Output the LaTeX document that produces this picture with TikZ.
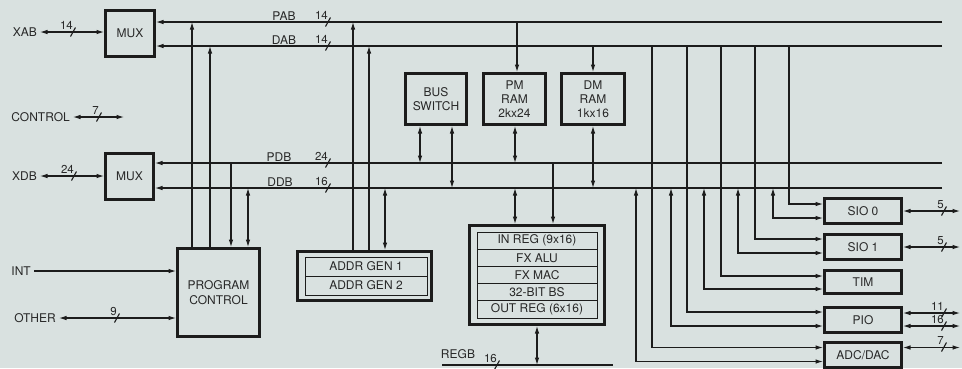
\documentclass[tikz,border=0pt]{standalone}
\usepackage{fontspec}
\setmainfont{TeX Gyre Heros}
\usetikzlibrary{arrows.meta}
\definecolor{bgc}{RGB}{217,225,224}
\definecolor{ink}{RGB}{28,28,28}
\definecolor{txt}{RGB}{40,40,40}
\newcommand\busmark[3]{%
  \draw[ln] (#1-2.5,#2+4.5) -- (#1+2.5,#2-4.5);
  \node[numlbl] at (#1+0.5,#2-1.5) {#3};}
\begin{document}
\begin{tikzpicture}[x=1pt,y=-1pt,
  every node/.style={font=\fontsize{12}{14}\selectfont, text=txt},
  blk/.style={draw=ink, line width=2.6pt, inner sep=0pt, align=center},
  cell/.style={draw=ink, line width=1pt, inner sep=0pt},
  ln/.style={draw=ink, line width=1.1pt},
  ar/.style={ln, -{Latex[length=7.5pt,width=4.6pt]}},
  dar/.style={ln, {Latex[length=7.5pt,width=4.6pt]}-{Latex[length=7.5pt,width=4.6pt]}},
  lbl/.style={inner sep=3pt},
  numlbl/.style={font=\fontsize{11.5}{12}\selectfont, anchor=south east, inner sep=0.5pt}]
\fill[bgc] (0,0) rectangle (962,368);
\useasboundingbox (0,0) rectangle (962,368);

% blocks
\node[blk, minimum width=49.4, minimum height=46.4] (mux1) at (130,33.5) {MUX};
\node[blk, minimum width=48.4, minimum height=46.4] (mux2) at (129.5,176.5) {MUX};
\node[blk, minimum width=61.4, minimum height=51.4] (busswitch) at (436,99) {BUS\\SWITCH};
\node[blk, minimum width=62.4, minimum height=51.4] (pmram) at (514.5,99) {PM\\RAM\\2kx24};
\node[blk, minimum width=63.4, minimum height=51.4] (dmram) at (593,99) {DM\\RAM\\1kx16};
\node[blk, minimum width=82.4, minimum height=88.4, font=\fontsize{12}{15}\selectfont] (progctl) at (218.5,292.5) {PROGRAM\\CONTROL};
\node[blk, minimum width=134.4, minimum height=49.4] (addrgen) at (364.5,276) {};
\node[cell, minimum width=122, minimum height=19] (ag1) at (366,266.5) {ADDR GEN 1};
\node[cell, minimum width=122, minimum height=19] (ag2) at (366,285.5) {ADDR GEN 2};
\node[blk, minimum width=135.4, minimum height=99.4] (alu) at (537,275) {};
\node[cell, minimum width=120, minimum height=17.2] (r1) at (537,240.6) {IN REG (9x16)};
\node[cell, minimum width=120, minimum height=17.2] (r2) at (537,257.8) {FX ALU};
\node[cell, minimum width=120, minimum height=17.2] (r3) at (537,275) {FX MAC};
\node[cell, minimum width=120, minimum height=17.2] (r4) at (537,292.2) {32-BIT BS};
\node[cell, minimum width=120, minimum height=17.2] (r5) at (537,309.4) {OUT REG (6x16)};
\node[blk, minimum width=77.4, minimum height=25.4] (sio0) at (863,211) {SIO 0};
\node[blk, minimum width=77.4, minimum height=25.4] (sio1) at (863,247) {SIO 1};
\node[blk, minimum width=77.4, minimum height=23.4] (tim) at (863,282) {TIM};
\node[blk, minimum width=77.4, minimum height=25.4] (pio) at (863,320) {PIO};
\node[blk, minimum width=77.4, minimum height=25.4] (adc) at (863,355) {ADC/DAC};

% buses
\coordinate (pabR) at (942,22);
\coordinate (dabR) at (942,46);
\coordinate (pdbR) at (942,163);
\coordinate (ddbR) at (942,188);
\coordinate (regbL) at (442,365);
\coordinate (regbR) at (613,365);
\draw[ar] (pabR) -- (mux1.east |- pabR);
\draw[ar] (dabR) -- (mux1.east |- dabR);
\draw[ar] (pdbR) -- (mux2.east |- pdbR);
\draw[ar] (ddbR) -- (mux2.east |- ddbR);
\draw[ln] (regbL) -- (regbR);
\node[anchor=base] (pabt) at (284,20.5) {PAB};
\node[anchor=base] (dabt) at (284,44.5) {DAB};
\node[anchor=base] (pdbt) at (279,161) {PDB};
\node[anchor=base] (ddbt) at (280,186) {DDB};
\node[anchor=base] (regbt) at (458,358) {REGB};
\busmark{328}{22}{14}
\busmark{328}{46}{14}
\busmark{328}{163}{24}
\busmark{328}{188}{16}
\busmark{497}{365}{16}

% program control
\draw[ar] (192,0 |- progctl.north) -- (192,0 |- pabR);
\draw[ar] (210,0 |- progctl.north) -- (210,0 |- dabR);
\draw[ar] (231,0 |- pdbR) -- (231,0 |- progctl.north);
\draw[dar] (248,0 |- ddbR) -- (248,0 |- progctl.north);
% address generators
\draw[ar] (353,0 |- addrgen.north) -- (353,0 |- pabR);
\draw[ar] (369,0 |- addrgen.north) -- (369,0 |- dabR);
\draw[dar] (385,0 |- ddbR) -- (385,0 |- addrgen.north);
% memories and bus switch
\draw[dar] (420,0 |- busswitch.south) -- (420,0 |- pdbR);
\draw[dar] (452,0 |- busswitch.south) -- (452,0 |- ddbR);
\draw[ar] (517,0 |- pabR) -- (517,0 |- pmram.north);
\draw[dar] (515,0 |- pmram.south) -- (515,0 |- pdbR);
\draw[ar] (593,0 |- dabR) -- (dmram.north);
\draw[dar] (dmram.south) -- (593,0 |- ddbR);
% computation units
\draw[dar] (515,0 |- ddbR) -- (515,0 |- alu.north);
\draw[ar] (553,0 |- pdbR) -- (553,0 |- alu.north);
\draw[dar] (alu.south) -- (alu.south |- regbL);

% peripherals
\draw[ar] (789,0 |- dabR) |- ([yshift=7pt]sio0.west);
\draw[dar] (773,0 |- ddbR) |- ([yshift=-7pt]sio0.west);
\draw[ar] (755,0 |- dabR) |- ([yshift=8pt]sio1.west);
\draw[dar] (738,0 |- ddbR) |- ([yshift=-6pt]sio1.west);
\draw[ar] (721,0 |- dabR) |- ([yshift=6pt]tim.west);
\draw[dar] (704,0 |- ddbR) |- ([yshift=-7pt]tim.west);
\draw[ar] (687,0 |- dabR) |- ([yshift=8pt]pio.west);
\draw[dar] (671,0 |- ddbR) |- ([yshift=-6pt]pio.west);
\draw[ar] (652,0 |- dabR) |- ([yshift=7.5pt]adc.west);
\draw[dar] (636,0 |- ddbR) |- ([yshift=-6.5pt]adc.west);

% external lines on the right
\coordinate (pioA) at ([yshift=7pt]pio.east);
\coordinate (pioB) at ([yshift=-6pt]pio.east);
\coordinate (adcA) at ([yshift=7.5pt]adc.east);
\draw[dar] (sio0.east) -- (960,0 |- sio0.east);
\draw[dar] (sio1.east) -- (960,0 |- sio1.east);
\draw[dar] (pioA) -- (960,0 |- pioA);
\draw[dar] (pioB) -- (960,0 |- pioB);
\draw[dar] (adcA) -- (960,0 |- adcA);
\busmark{944}{211}{5}
\busmark{944}{247}{5}
\busmark{944}{313}{11}
\busmark{944}{326}{16}
\busmark{944}{347}{7}

% external lines on the left
\node[lbl, anchor=east] (xab) at (40,32) {XAB};
\draw[dar] (xab.east) -- (mux1.west |- xab.east);
\busmark{73}{32}{14}
\node[lbl, anchor=east] (ctl) at (73,117) {CONTROL};
\coordinate (ctlend) at (124,117);
\draw[dar] (ctl.east) -- (ctlend);
\busmark{99}{117}{7}
\node[lbl, anchor=east] (xdb) at (40,176) {XDB};
\draw[dar] (xdb.east) -- (mux2.west |- xdb.east);
\busmark{74}{176}{24}
\node[lbl, anchor=east] (int) at (34,271) {INT};
\draw[ar] (int.east) -- (progctl.west |- int.east);
\node[lbl, anchor=east] (other) at (59,318) {OTHER};
\draw[dar] (other.east) -- (progctl.west |- other.east);
\busmark{117}{318}{9}
\end{tikzpicture}
\end{document}
